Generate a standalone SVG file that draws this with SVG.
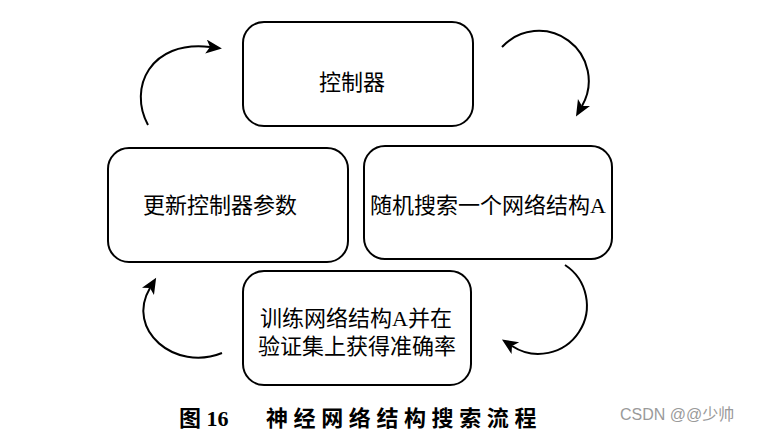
<svg xmlns="http://www.w3.org/2000/svg" width="761" height="435" viewBox="0 0 761 435">
  <style>
    .box { fill: #ffffff; stroke: #000000; stroke-width: 2; }
    .lbl { font-family: "Liberation Serif", "Noto Sans CJK SC", serif; font-size: 22px; fill: #000000; text-anchor: middle; }
    .conn { fill: none; stroke: #000000; stroke-width: 2; }
    .cap { font-family: "Liberation Serif", "Noto Sans CJK SC", serif; font-size: 22px; font-weight: bold; fill: #000000; }
    .wm { font-family: "Liberation Sans", "Noto Sans CJK SC", sans-serif; font-size: 16px; fill: #9a9a9a; }
  </style>
  <defs>
    <marker id="arr" markerUnits="userSpaceOnUse" markerWidth="17" markerHeight="15" refX="4" refY="7" orient="auto" viewBox="0 0 17 15">
      <path d="M0,0 L16,7 L0,14 L4,7 z" fill="#000000"/>
    </marker>
  </defs>
  <rect width="761" height="435" fill="#ffffff"/>

  <g id="node-controller">
    <rect class="box" x="243" y="22" width="230" height="104" rx="21" ry="21"/>
    <text class="lbl" x="352" y="90">控制器</text>
  </g>
  <g id="node-update">
    <rect class="box" x="108" y="148" width="240" height="114" rx="21" ry="21"/>
    <text class="lbl" x="220" y="213">更新控制器参数</text>
  </g>
  <g id="node-search">
    <rect class="box" x="364" y="146" width="248" height="113" rx="21" ry="21"/>
    <text class="lbl" x="488" y="213">随机搜索一个网络结构A</text>
  </g>
  <g id="node-train">
    <rect class="box" x="243" y="271" width="228" height="114" rx="21" ry="21"/>
    <text class="lbl" x="356" y="326">训练网络结构A并在</text>
    <text class="lbl" x="357" y="354">验证集上获得准确率</text>
  </g>

  <g id="connectors">
    <path class="conn" d="M148,125 C128,88 150,40 210,47" marker-end="url(#arr)"/>
    <path class="conn" d="M502,47 A50,50 0 0 1 582,106" marker-end="url(#arr)"/>
    <path class="conn" d="M565,265 A48,48 0 0 1 512,346" marker-end="url(#arr)"/>
    <path class="conn" d="M222,353 C175,372 125,330 150,288" marker-end="url(#arr)"/>
  </g>

  <g id="caption">
    <text class="cap" x="179" y="426">图 16</text>
    <text class="cap" x="266" y="426" letter-spacing="5.6">神经网络结构搜索流程</text>
  </g>
  <text class="wm" x="620" y="420">CSDN @@少帅</text>
</svg>
